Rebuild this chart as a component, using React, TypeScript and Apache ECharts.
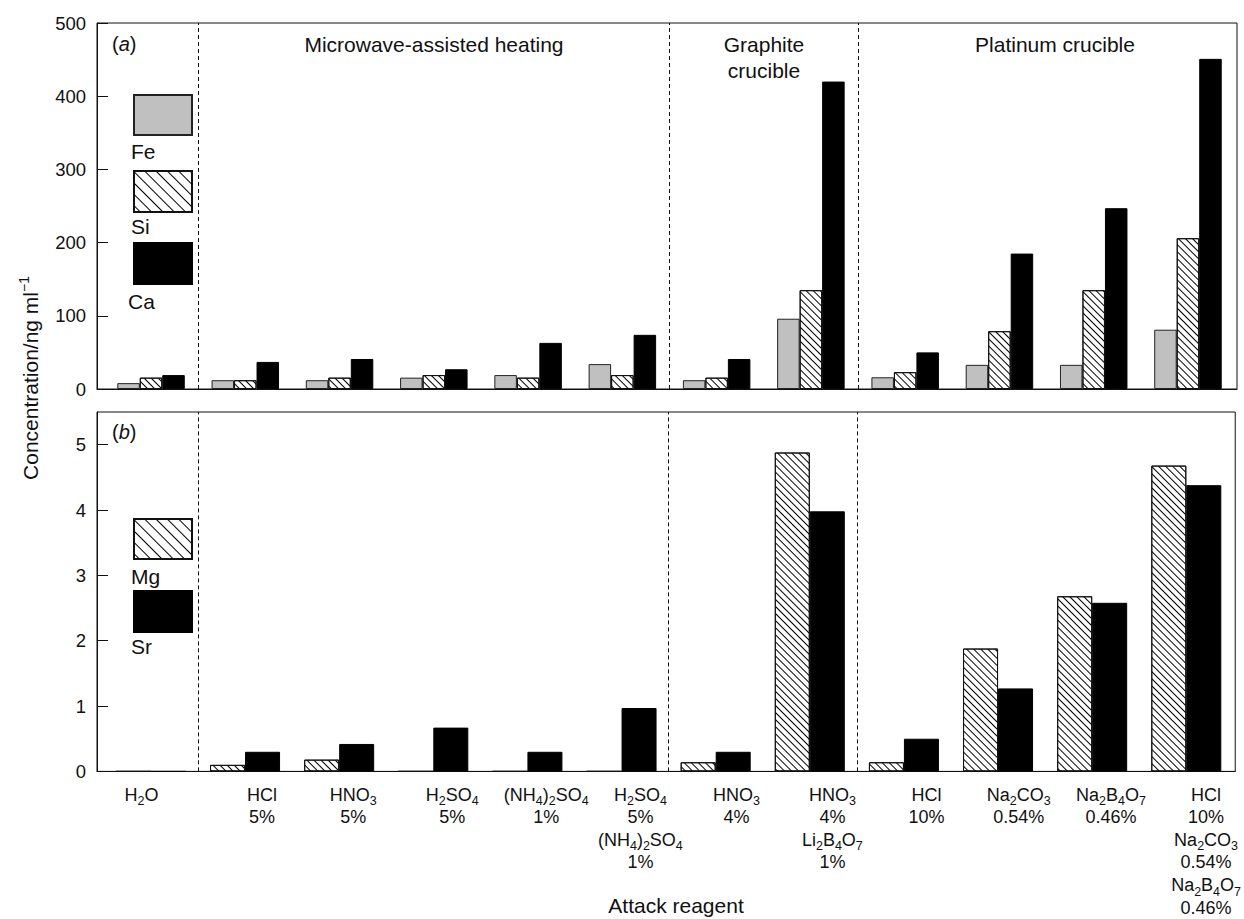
import React, { useEffect, useRef } from 'react';
import * as echarts from 'echarts';

// ---------- data ----------
const categories: string[] = [
  'H{s|2}O',
  'HCl\n5%',
  'HNO{s|3}\n5%',
  'H{s|2}SO{s|4}\n5%',
  '(NH{s|4}){s|2}SO{s|4}\n1%',
  'H{s|2}SO{s|4}\n5%\n(NH{s|4}){s|2}SO{s|4}\n1%',
  'HNO{s|3}\n4%',
  'HNO{s|3}\n4%\nLi{s|2}B{s|4}O{s|7}\n1%',
  'HCl\n10%',
  'Na{s|2}CO{s|3}\n0.54%',
  'Na{s|2}B{s|4}O{s|7}\n0.46%',
  'HCl\n10%\nNa{s|2}CO{s|3}\n0.54%\nNa{s|2}B{s|4}O{s|7}\n0.46%',
];

const feValues = [8, 12, 12, 15.5, 19, 34, 12, 96, 16, 33, 33, 81];
const siValues = [15.5, 12, 15.5, 19, 15.5, 19, 15.5, 135, 23, 79, 135, 206];
const caValues = [19, 37, 41, 27, 63, 74, 41, 420, 50, 185, 247, 451];

const mgValues = [0, 0.1, 0.18, 0, 0, 0, 0.14, 4.88, 0.14, 1.88, 2.68, 4.68];
const srValues = [0, 0.3, 0.42, 0.67, 0.3, 0.97, 0.3, 3.98, 0.5, 1.27, 2.58, 4.38];

const sectionBounds = [0.5, 5.5, 7.5];
const sectionTitles = ['Microwave-assisted heating', 'Graphite\ncrucible', 'Platinum crucible'];

const yMaxA = 500;
const yStepA = 100;
const yMaxB = 5.5;
const yStepB = 1;

// ---------- layout ----------
const FONT = '"Liberation Sans", Arial, Helvetica, sans-serif';
const INK = '#111';
const X_MIN = -0.573;
const X_MAX = 11.52;
// label anchor positions along the x scale (labels sit a little right of the bar groups)
const labelAnchors = [-0.1, 1.18, 2.15, 3.2, 4.2, 5.2, 6.22, 7.24, 8.24, 9.22, 10.2, 11.21];

const hatchBar = {
  symbol: 'rect',
  symbolSize: 1,
  dashArrayX: [1, 0],
  dashArrayY: [1, 4],
  rotation: Math.PI / 4,
  color: '#000',
  backgroundColor: '#fff',
};
const hatchLegend = {
  symbol: 'rect',
  symbolSize: 1,
  dashArrayX: [1, 0],
  dashArrayY: [1, 7],
  rotation: Math.PI / 4,
  color: '#000',
  backgroundColor: '#fff',
};

function pairs(vals: number[]) {
  return vals.map((v, i) => [i, v]);
}

function makeLegend(name: string, top: number, height: number, decal?: any) {
  return {
    data: [name],
    left: 133,
    top,
    padding: 0,
    itemWidth: 58,
    itemHeight: height,
    icon: 'rect',
    selectedMode: false,
    formatter: () => '',
    itemStyle: decal ? { decal } : {},
    textStyle: { fontSize: 1 },
  };
}

function text(t: string, x: number, y: number, opts: any = {}) {
  return {
    type: 'text',
    x,
    y,
    silent: true,
    rotation: opts.rotation || 0,
    style: {
      text: t,
      fill: INK,
      fontFamily: FONT,
      fontSize: opts.fontSize || 21,
      lineHeight: opts.lineHeight,
      align: opts.align || 'center',
      textAlign: opts.align || 'center',
      verticalAlign: 'middle',
      textVerticalAlign: 'middle',
      rich: opts.rich,
    },
  };
}

export default function App() {
  const ref = useRef<HTMLDivElement>(null);

  useEffect(() => {
    if (!ref.current) return;
    const chart = echarts.init(ref.current, undefined, { renderer: 'svg' });

    const dashedSeries = (idx: number) => ({
      name: 'sections-' + idx,
      type: 'line',
      xAxisIndex: idx,
      yAxisIndex: idx,
      data: [],
      silent: true,
      markLine: {
        silent: true,
        symbol: ['none', 'none'],
        label: { show: false },
        lineStyle: { color: INK, type: [4, 3], width: 1 },
        emphasis: { disabled: true },
        data: sectionBounds.map((v) => ({ xAxis: v })),
      },
    });

    const baseX = {
      type: 'value',
      min: X_MIN,
      max: X_MAX,
      axisLine: { show: true, onZero: false, lineStyle: { color: INK, width: 1 } },
      axisTick: { show: false },
      splitLine: { show: false },
    };

    const baseY = {
      type: 'value',
      min: 0,
      axisLine: { show: true, onZero: false, lineStyle: { color: INK, width: 1 } },
      axisTick: { show: true, inside: true, length: 11, lineStyle: { color: INK, width: 1 } },
      splitLine: { show: false },
      axisLabel: { color: INK, fontSize: 18.5, fontFamily: FONT, margin: 11 },
    };

    const option: any = {
      animation: false,
      backgroundColor: '#fff',
      textStyle: { fontFamily: FONT },
      grid: [
        { left: 97, top: 23, width: 1140, height: 366, show: true, borderColor: INK, borderWidth: 1, backgroundColor: 'transparent' },
        { left: 97, top: 412, width: 1140, height: 366, show: true, borderColor: INK, borderWidth: 1, backgroundColor: 'transparent' },
      ],
      xAxis: [
        { ...baseX, gridIndex: 0, axisLabel: { show: false } },
        {
          ...baseX,
          gridIndex: 1,
          axisLabel: {
            show: true,
            customValues: labelAnchors,
            formatter: (v: number) => {
              let best = 0;
              for (let i = 1; i < labelAnchors.length; i++) {
                if (Math.abs(labelAnchors[i] - v) < Math.abs(labelAnchors[best] - v)) best = i;
              }
              return categories[best];
            },
            margin: 12,
            color: INK,
            fontSize: 18,
            lineHeight: 22.6,
            fontFamily: FONT,
            align: 'center',
            rich: {
              s: { fontSize: 12.5, lineHeight: 22.6, padding: [13, 0, 0, 0], color: INK, fontFamily: FONT },
            },
          },
        },
      ],
      yAxis: [
        { ...baseY, gridIndex: 0, max: yMaxA, interval: yStepA },
        {
          ...baseY,
          gridIndex: 1,
          max: yMaxB,
          interval: yStepB,
          axisLabel: { ...baseY.axisLabel, showMaxLabel: false, formatter: (v: number) => (v % 1 === 0 ? String(v) : '') },
        },
      ],
      legend: [
        makeLegend('Fe', 94, 40),
        makeLegend('Si', 170, 41, hatchLegend),
        makeLegend('Ca', 242, 41),
        makeLegend('Mg', 518, 40, hatchLegend),
        makeLegend('Sr', 590, 41),
      ],
      series: [
        {
          name: 'Fe', type: 'bar', xAxisIndex: 0, yAxisIndex: 0, barWidth: 22.5, barGap: '0%',
          data: pairs(feValues),
          itemStyle: { color: '#c0c0c0', borderColor: '#222', borderWidth: 1 },
        },
        {
          name: 'Si', type: 'bar', xAxisIndex: 0, yAxisIndex: 0, barWidth: 22.5, barGap: '0%',
          data: pairs(siValues),
          itemStyle: { color: '#fff', borderColor: '#111', borderWidth: 1, decal: hatchBar },
        },
        {
          name: 'Ca', type: 'bar', xAxisIndex: 0, yAxisIndex: 0, barWidth: 22.5, barGap: '0%',
          data: pairs(caValues),
          itemStyle: { color: '#000', borderColor: '#000', borderWidth: 1 },
        },
        {
          name: 'Mg', type: 'bar', xAxisIndex: 1, yAxisIndex: 1, barWidth: 35, barGap: '0%',
          data: pairs(mgValues),
          itemStyle: { color: '#fff', borderColor: '#111', borderWidth: 1, decal: hatchBar },
        },
        {
          name: 'Sr', type: 'bar', xAxisIndex: 1, yAxisIndex: 1, barWidth: 35, barGap: '0%',
          data: pairs(srValues),
          itemStyle: { color: '#000', borderColor: '#000', borderWidth: 1 },
        },
        dashedSeries(0),
        dashedSeries(1),
      ],
      graphic: [
        text(sectionTitles[0], 434, 44),
        text(sectionTitles[1], 764, 57, { lineHeight: 26 }),
        text(sectionTitles[2], 1055, 44),
        text('({i|a})', 112, 44, { align: 'left', fontSize: 20, rich: { i: { fontStyle: 'italic', fontSize: 20, fontFamily: FONT, fill: INK } } }),
        text('({i|b})', 112, 432, { align: 'left', fontSize: 20, rich: { i: { fontStyle: 'italic', fontSize: 20, fontFamily: FONT, fill: INK } } }),
        text('Fe', 131, 151, { align: 'left' }),
        text('Si', 131, 226, { align: 'left' }),
        text('Ca', 128, 301, { align: 'left' }),
        text('Mg', 131, 576, { align: 'left' }),
        text('Sr', 131, 646, { align: 'left' }),
        text('Attack reagent', 676, 905),
        text('Concentration/ng ml{sup|−1}', 30, 378, {
          fontSize: 21,
          rotation: Math.PI / 2,
          rich: { sup: { fontSize: 14, padding: [0, 0, 12, 0], fontFamily: FONT, fill: INK } },
        }),
      ],
    };

    chart.setOption(option);
    return () => chart.dispose();
  }, []);

  return (
    <div
      ref={ref}
      style={{ position: 'fixed', left: 0, top: 0, width: 1244, height: 919, background: '#fff' }}
    />
  );
}
